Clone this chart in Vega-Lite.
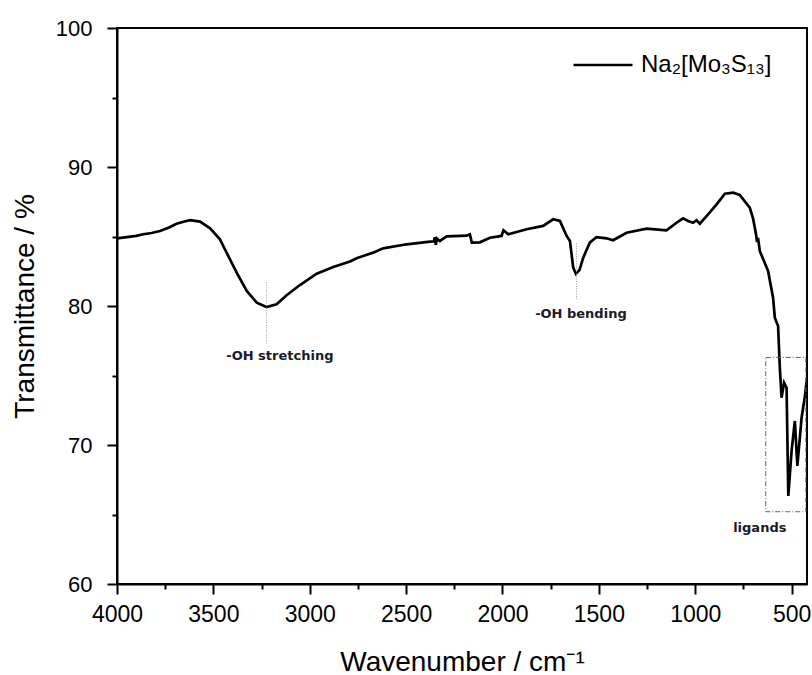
{
  "$schema": "https://vega.github.io/schema/vega-lite/v6.json",
  "width": 690,
  "height": 556,
  "padding": {"left": 11, "top": 17, "right": 0, "bottom": 0},
  "background": "white",
  "config": {
    "view": {"stroke": "black", "strokeWidth": 2},
    "font": "Liberation Sans"
  },
  "datasets": {
    "curve": [
      {"wn": 4000, "T": 84.87}, {"wn": 3950, "T": 84.96}, {"wn": 3900, "T": 85.05}, {"wn": 3864, "T": 85.16},
      {"wn": 3820, "T": 85.25}, {"wn": 3777, "T": 85.4}, {"wn": 3730, "T": 85.65}, {"wn": 3691, "T": 85.92},
      {"wn": 3650, "T": 86.08}, {"wn": 3621, "T": 86.17}, {"wn": 3569, "T": 86.07}, {"wn": 3517, "T": 85.59},
      {"wn": 3466, "T": 84.8}, {"wn": 3431, "T": 83.83}, {"wn": 3379, "T": 82.4}, {"wn": 3327, "T": 81.08},
      {"wn": 3275, "T": 80.24}, {"wn": 3224, "T": 79.93}, {"wn": 3172, "T": 80.12}, {"wn": 3120, "T": 80.77},
      {"wn": 3051, "T": 81.51}, {"wn": 2964, "T": 82.32}, {"wn": 2878, "T": 82.8}, {"wn": 2791, "T": 83.2},
      {"wn": 2757, "T": 83.43}, {"wn": 2671, "T": 83.84}, {"wn": 2619, "T": 84.15}, {"wn": 2497, "T": 84.44},
      {"wn": 2376, "T": 84.63}, {"wn": 2356, "T": 84.66}, {"wn": 2351, "T": 84.95}, {"wn": 2346, "T": 84.4},
      {"wn": 2340, "T": 84.85}, {"wn": 2325, "T": 84.68}, {"wn": 2290, "T": 85.01}, {"wn": 2186, "T": 85.06},
      {"wn": 2169, "T": 85.16}, {"wn": 2159, "T": 84.56}, {"wn": 2117, "T": 84.58}, {"wn": 2065, "T": 84.91},
      {"wn": 2005, "T": 85.04}, {"wn": 1995, "T": 85.45}, {"wn": 1970, "T": 85.16}, {"wn": 1875, "T": 85.52},
      {"wn": 1789, "T": 85.76}, {"wn": 1737, "T": 86.24}, {"wn": 1702, "T": 86.12}, {"wn": 1667, "T": 85.04},
      {"wn": 1650, "T": 84.68}, {"wn": 1633, "T": 82.76}, {"wn": 1619, "T": 82.32}, {"wn": 1600, "T": 82.6},
      {"wn": 1581, "T": 83.48}, {"wn": 1547, "T": 84.56}, {"wn": 1512, "T": 84.96}, {"wn": 1460, "T": 84.87},
      {"wn": 1426, "T": 84.73}, {"wn": 1356, "T": 85.27}, {"wn": 1252, "T": 85.56}, {"wn": 1149, "T": 85.44},
      {"wn": 1097, "T": 85.99}, {"wn": 1063, "T": 86.31}, {"wn": 1037, "T": 86.12}, {"wn": 1011, "T": 85.99},
      {"wn": 993, "T": 86.17}, {"wn": 976, "T": 85.92}, {"wn": 941, "T": 86.47}, {"wn": 889, "T": 87.31},
      {"wn": 846, "T": 88.08}, {"wn": 803, "T": 88.15}, {"wn": 769, "T": 87.99}, {"wn": 717, "T": 87.07},
      {"wn": 700, "T": 86.3}, {"wn": 685, "T": 85.2}, {"wn": 679, "T": 84.6}, {"wn": 674, "T": 84.9},
      {"wn": 665, "T": 83.96}, {"wn": 622, "T": 82.52}, {"wn": 596, "T": 80.6}, {"wn": 587, "T": 79.16},
      {"wn": 570, "T": 78.56}, {"wn": 561, "T": 75.56}, {"wn": 552, "T": 73.4}, {"wn": 539, "T": 74.48},
      {"wn": 526, "T": 74.12}, {"wn": 517, "T": 66.33}, {"wn": 500, "T": 69.57}, {"wn": 483, "T": 71.73},
      {"wn": 470, "T": 68.49}, {"wn": 448, "T": 71.96}, {"wn": 431, "T": 73.5}, {"wn": 420, "T": 74.84}
    ],
    "guides": [
      {"x": 3224, "y": 81.7, "y2": 77.3},
      {"x": 1616, "y": 84.5, "y2": 80.5}
    ],
    "labels": [
      {"x": 3155, "y": 76.4, "text": "-OH stretching"},
      {"x": 1593, "y": 79.45, "text": "-OH bending"},
      {"x": 665, "y": 64.0, "text": "ligands"}
    ],
    "box": [
      {"x": 634, "x2": 426, "y": 76.3, "y2": 65.2}
    ]
  },
  "layer": [
    {
      "data": {"name": "curve"},
      "transform": [{"calculate": "'Na₂[Mo₃S₁₃]'", "as": "series"}],
      "mark": {"type": "line", "strokeWidth": 2.7, "clip": true},
      "encoding": {
        "x": {
          "field": "wn", "type": "quantitative",
          "scale": {"domain": [4000, 420], "nice": false, "zero": false},
          "axis": {
            "title": "Wavenumber / cm⁻¹",
            "titleFontSize": 28, "titleFontWeight": "normal", "titleColor": "black", "titlePadding": 22,
            "values": [4000, 3750, 3500, 3250, 3000, 2750, 2500, 2250, 2000, 1750, 1500, 1250, 1000, 750, 500],
            "labelExpr": "datum.value % 500 === 0 ? datum.label : ''",
            "format": "d",
            "labelFontSize": 23, "labelColor": "black", "labelFlush": false, "labelOverlap": false, "labelPadding": 9,
            "tickSize": {"condition": {"test": "datum.value % 500 === 0", "value": 10}, "value": 5},
            "tickWidth": 2, "tickColor": "black",
            "domainColor": "black", "domainWidth": 2,
            "grid": false
          }
        },
        "y": {
          "field": "T", "type": "quantitative",
          "scale": {"domain": [60, 100], "nice": false, "zero": false},
          "axis": {
            "title": "Transmittance / %",
            "titleFontSize": 28, "titleFontWeight": "normal", "titleColor": "black", "titlePadding": 16,
            "values": [60, 65, 70, 75, 80, 85, 90, 95, 100],
            "labelExpr": "datum.value % 10 === 0 ? datum.label : ''",
            "labelFontSize": 22, "labelColor": "black", "labelFlush": false, "labelOverlap": false, "labelPadding": 15,
            "tickSize": {"condition": {"test": "datum.value % 10 === 0", "value": 10}, "value": 5},
            "tickWidth": 2, "tickColor": "black",
            "domainColor": "black", "domainWidth": 2,
            "grid": false
          }
        },
        "color": {
          "field": "series", "type": "nominal",
          "scale": {"range": ["black"]},
          "legend": {
            "title": null,
            "orient": "none", "legendX": 455, "legendY": 6,
            "symbolType": "stroke", "symbolSize": 3481, "symbolStrokeWidth": 2.7, "symbolStrokeColor": "black",
            "labelFontSize": 24, "labelColor": "black", "labelOffset": 7
          }
        }
      }
    },
    {
      "data": {"name": "guides"},
      "mark": {"type": "rule", "color": "#999999", "strokeWidth": 1, "strokeDash": [1, 1.5]},
      "encoding": {
        "x": {"field": "x", "type": "quantitative"},
        "y": {"field": "y", "type": "quantitative"},
        "y2": {"field": "y2"}
      }
    },
    {
      "data": {"name": "box"},
      "mark": {"type": "rect", "fill": null, "fillOpacity": 0, "stroke": "#666666", "strokeWidth": 1, "strokeDash": [5, 2, 1, 2]},
      "encoding": {
        "x": {"field": "x", "type": "quantitative"},
        "x2": {"field": "x2"},
        "y": {"field": "y", "type": "quantitative"},
        "y2": {"field": "y2"}
      }
    },
    {
      "data": {"name": "labels"},
      "mark": {"type": "text", "font": "DejaVu Sans", "fontWeight": "bold", "fontSize": 13, "color": "#1a1a2a", "baseline": "middle", "align": "center"},
      "encoding": {
        "x": {"field": "x", "type": "quantitative"},
        "y": {"field": "y", "type": "quantitative"},
        "text": {"field": "text"}
      }
    }
  ]
}
